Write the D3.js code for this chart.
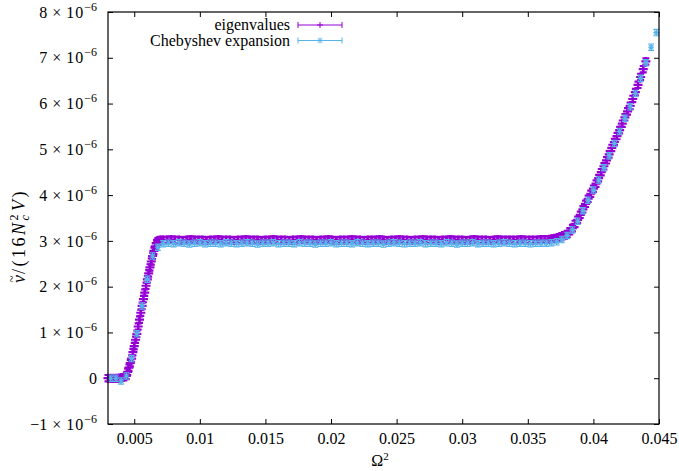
<!DOCTYPE html>
<html>
<head>
<meta charset="utf-8">
<script src="https://cdn.jsdelivr.net/npm/d3@7"></script>
<style>
body { margin: 0; background: #fff; }
svg { display: block; }
text { font-family: "Liberation Serif", serif; fill: #000; }
</style>
</head>
<body>
<div id="graph"></div>
<script>
// eigenvalues: Omega^2 in units of 1e-4, nu in units of 1e-6
const eigOmega2 = [
  30, 32, 34, 36, 38, 40, 42, 44, 45, 46,
  47, 48, 49, 50, 51, 52, 53, 54, 55, 56,
  57, 58, 59, 60, 61, 62, 63, 64, 65, 66,
  67, 68, 69, 70,
  72, 75, 78, 81, 84, 87, 90, 93, 96, 99,
  102, 105, 108, 111, 114, 117, 120, 123, 126, 129,
  132, 135, 138, 141, 144, 147, 150, 153, 156, 159,
  162, 165, 168, 171, 174, 177, 180, 183, 186, 189,
  192, 195, 198, 201, 204, 207, 210, 213, 216, 219,
  222, 225, 228, 231, 234, 237, 240, 243, 246, 249,
  252, 255, 258, 261, 264, 267, 270, 273, 276, 279,
  282, 285, 288, 291, 294, 297, 300, 303, 306, 309,
  312, 315, 318, 321, 324, 327, 330, 333, 336, 339,
  342, 345, 348, 351, 354, 357, 360, 363,
  366, 368, 370, 372, 374, 376, 378, 380, 382, 384,
  386, 388, 390, 392, 394, 396, 398, 400, 402, 404,
  406, 408, 410, 412, 414, 416, 418, 420, 422, 424,
  426, 428, 430, 432, 434, 436, 438, 440
];
const eigNu = [
  0.00, 0.00, 0.00, 0.00, 0.00, 0.01, 0.02, 0.05, 0.14, 0.23,
  0.33, 0.43, 0.57, 0.70, 0.84, 0.97, 1.13, 1.28, 1.43, 1.58,
  1.73, 1.87, 2.02, 2.16, 2.29, 2.42, 2.55, 2.67, 2.78, 2.88,
  2.95, 2.99, 3.01, 3.02,
  3.02, 3.02, 3.03, 3.02, 3.02, 3.01, 3.02, 3.03, 3.02, 3.02,
  3.02, 3.01, 3.02, 3.02, 3.03, 3.02, 3.02, 3.02, 3.01, 3.02,
  3.02, 3.03, 3.02, 3.02, 3.02, 3.01, 3.02, 3.02, 3.03, 3.02,
  3.02, 3.02, 3.01, 3.02, 3.02, 3.03, 3.02, 3.02, 3.02, 3.01,
  3.02, 3.02, 3.03, 3.02, 3.01, 3.02, 3.02, 3.02, 3.03, 3.02,
  3.02, 3.01, 3.02, 3.02, 3.02, 3.03, 3.02, 3.01, 3.02, 3.02,
  3.03, 3.02, 3.02, 3.01, 3.02, 3.02, 3.03, 3.02, 3.02, 3.02,
  3.01, 3.02, 3.02, 3.03, 3.02, 3.02, 3.02, 3.01, 3.02, 3.03,
  3.02, 3.02, 3.02, 3.01, 3.02, 3.03, 3.02, 3.02, 3.02, 3.02,
  3.02, 3.03, 3.02, 3.02, 3.02, 3.02, 3.03, 3.03,
  3.03, 3.04, 3.05, 3.06, 3.08, 3.10, 3.12, 3.15, 3.21, 3.28,
  3.37, 3.46, 3.57, 3.69, 3.81, 3.92, 4.03, 4.14, 4.25, 4.37,
  4.50, 4.63, 4.76, 4.89, 5.03, 5.16, 5.29, 5.42, 5.56, 5.70,
  5.83, 5.95, 6.10, 6.25, 6.41, 6.58, 6.75, 6.92
];
const eigErr = 0.07;

// Chebyshev expansion, same units
const chebOmega2 = [
  32, 36, 40, 44, 48, 52, 56, 60, 64, 68,
  72, 76, 80, 84, 88, 92, 96, 100, 104, 108,
  112, 116, 120, 124, 128, 132, 136, 140, 144, 148,
  152, 156, 160, 164, 168, 172, 176, 180, 184, 188,
  192, 196, 200, 204, 208, 212, 216, 220, 224, 228,
  232, 236, 240, 244, 248, 252, 256, 260, 264, 268,
  272, 276, 280, 284, 288, 292, 296, 300, 304, 308,
  312, 316, 320, 324, 328, 332, 336, 340, 344, 348,
  352, 356, 360, 364, 368, 372, 376, 380, 384, 388,
  392, 396, 400, 404, 408, 412, 416, 420, 424, 428,
  432, 436, 440, 444, 448
];
const chebNu = [
  0.00, 0.00, -0.06, 0.05, 0.43, 0.97, 1.58, 2.16, 2.67, 2.86,
  2.94, 2.95, 2.94, 2.96, 2.95, 2.93, 2.95, 2.96, 2.94, 2.95,
  2.95, 2.94, 2.96, 2.95, 2.94, 2.95, 2.96, 2.95, 2.93, 2.95,
  2.95, 2.96, 2.94, 2.95, 2.95, 2.94, 2.96, 2.95, 2.95, 2.93,
  2.95, 2.95, 2.96, 2.94, 2.95, 2.95, 2.94, 2.96, 2.95, 2.94,
  2.95, 2.95, 2.93, 2.95, 2.96, 2.95, 2.94, 2.95, 2.95, 2.96,
  2.94, 2.95, 2.95, 2.94, 2.96, 2.95, 2.93, 2.95, 2.95, 2.96,
  2.94, 2.95, 2.95, 2.94, 2.95, 2.96, 2.95, 2.94, 2.95, 2.95,
  2.94, 2.95, 2.95, 2.95, 2.96, 2.98, 3.03, 3.12, 3.24, 3.43,
  3.66, 3.89, 4.11, 4.33, 4.60, 4.86, 5.13, 5.39, 5.68, 5.93,
  6.22, 6.55, 6.89, 7.23, 7.55
];
const chebErr = 0.07;

const xTicks = [0.005, 0.01, 0.015, 0.02, 0.025, 0.03, 0.035, 0.04, 0.045];
const yTicks = [-1, 0, 1, 2, 3, 4, 5, 6, 7, 8];   // units of 1e-6
const seriesNames = ["eigenvalues", "Chebyshev expansion"];
const colors = ["#9400d3", "#56b4e9"];

const width = 679, height = 471;
const plotL = 108, plotR = 659, plotT = 12, plotB = 424;

const svg = d3.select("#graph").append("svg")
    .attr("width", width)
    .attr("height", height);

const x = d3.scaleLinear().domain([0.003, 0.045]).range([plotL, plotR]);
const y = d3.scaleLinear().domain([-1e-6, 8e-6]).range([plotB, plotT]);

// ticks, all pointing inwards
svg.append("g")
    .attr("transform", `translate(0,${plotB})`)
    .call(d3.axisBottom(x).tickValues(xTicks).tickSize(-5).tickSizeOuter(0)
        .tickPadding(9).tickFormat(d => String(+d.toFixed(3))));
svg.append("g")
    .attr("transform", `translate(0,${plotT})`)
    .call(d3.axisTop(x).tickValues(xTicks).tickSize(-5).tickSizeOuter(0).tickFormat(""));

const yAxis = svg.append("g")
    .attr("transform", `translate(${plotL},0)`)
    .call(d3.axisLeft(y).tickValues(yTicks.map(v => v * 1e-6)).tickSize(-5).tickSizeOuter(0)
        .tickPadding(11));
svg.append("g")
    .attr("transform", `translate(${plotR},0)`)
    .call(d3.axisRight(y).tickValues(yTicks.map(v => v * 1e-6)).tickSize(-5).tickSizeOuter(0).tickFormat(""));

svg.selectAll(".domain").remove();
svg.selectAll(".tick line").attr("stroke", "#000");
svg.selectAll(".tick text").attr("font-family", "Liberation Serif").attr("font-size", 16).attr("fill", "#000");

// y labels as  m × 10^-6
yAxis.selectAll(".tick text").each(function (d) {
    const t = d3.select(this);
    const m = Math.round(d / 1e-6);
    t.text(null);
    if (m === 0) { t.text("0"); return; }
    t.append("tspan").text((m < 0 ? "\u2212" : "") + Math.abs(m));
    t.append("tspan").attr("dx", 5).text("\u00d7");
    t.append("tspan").attr("dx", 5).attr("letter-spacing", 1).text("10");
    t.append("tspan").attr("dy", -7).attr("font-size", 12).text("\u22126");
});

const plusPath = "M-4.5,0H4.5M0,-4.5V4.5";
const starPath = "M-3,0H3M0,-3V3M-2.3,-2.3L2.3,2.3M-2.3,2.3L2.3,-2.3";

function drawSeries(omega, nu, err, color, marker, cap, lw) {
    const data = omega.map((o, i) => ({ x: o * 1e-4, y: nu[i] * 1e-6 }));
    const g = svg.append("g").attr("fill", "none").attr("stroke", color).attr("stroke-width", lw);
    const pts = g.selectAll("g").data(data).join("g")
        .attr("transform", d => `translate(${x(d.x)},${y(d.y)})`);
    pts.append("path")
        .attr("d", d => {
            const up = y(d.y + err * 1e-6) - y(d.y);
            const dn = y(d.y - err * 1e-6) - y(d.y);
            return `M0,${up}V${dn}M${-cap},${up}H${cap}M${-cap},${dn}H${cap}`;
        });
    pts.append("path").attr("d", marker);
}

drawSeries(eigOmega2, eigNu, eigErr, colors[0], plusPath, 3.5, 2.2);
drawSeries(chebOmega2, chebNu, chebErr, colors[1], starPath, 3, 1.1);

// frame
svg.append("rect")
    .attr("x", plotL).attr("y", plotT)
    .attr("width", plotR - plotL).attr("height", plotB - plotT)
    .attr("fill", "none").attr("stroke", "#000").attr("stroke-width", 1.2);

// legend
const legend = svg.append("g");
seriesNames.forEach((name, i) => {
    const ly = 25 + i * 15.5;
    legend.append("text")
        .attr("x", 290).attr("y", ly).attr("dy", "0.32em")
        .attr("text-anchor", "end").attr("font-size", 16)
        .text(name);
    const s = legend.append("g").attr("stroke", colors[i]).attr("fill", "none").attr("stroke-width", 1);
    s.append("path").attr("d", `M298,${ly}H342M298,${ly - 3}V${ly + 3}M342,${ly - 3}V${ly + 3}`);
    s.append("path").attr("transform", `translate(320,${ly})`).attr("d", i === 0 ? "M-3,0H3M0,-3V3" : starPath);
});

// axis titles
const xl = svg.append("text")
    .attr("x", 380).attr("y", 466)
    .attr("text-anchor", "middle").attr("font-size", 16);
xl.append("tspan").text("\u03a9");
xl.append("tspan").attr("dy", -6).attr("font-size", 11).text("2");

const yl = svg.append("text")
    .attr("transform", "translate(25,236) rotate(-90)")
    .attr("text-anchor", "middle").attr("font-size", 18).attr("letter-spacing", 2.5);
yl.append("tspan").attr("font-style", "italic").text("\u03bd");
yl.append("tspan").attr("dx", -10).attr("dy", -9).attr("font-size", 13).text("~");
yl.append("tspan").attr("dx", -1).attr("dy", 9).text("/(16");
yl.append("tspan").attr("font-style", "italic").text("N");
yl.append("tspan").attr("font-style", "italic").attr("font-size", 12).attr("dy", 4).text("c");
yl.append("tspan").attr("font-size", 12).attr("dx", -8).attr("dy", -11).text("2");
yl.append("tspan").attr("font-style", "italic").attr("dx", 1).attr("dy", 7).text("V");
yl.append("tspan").text(")");
</script>
</body>
</html>
